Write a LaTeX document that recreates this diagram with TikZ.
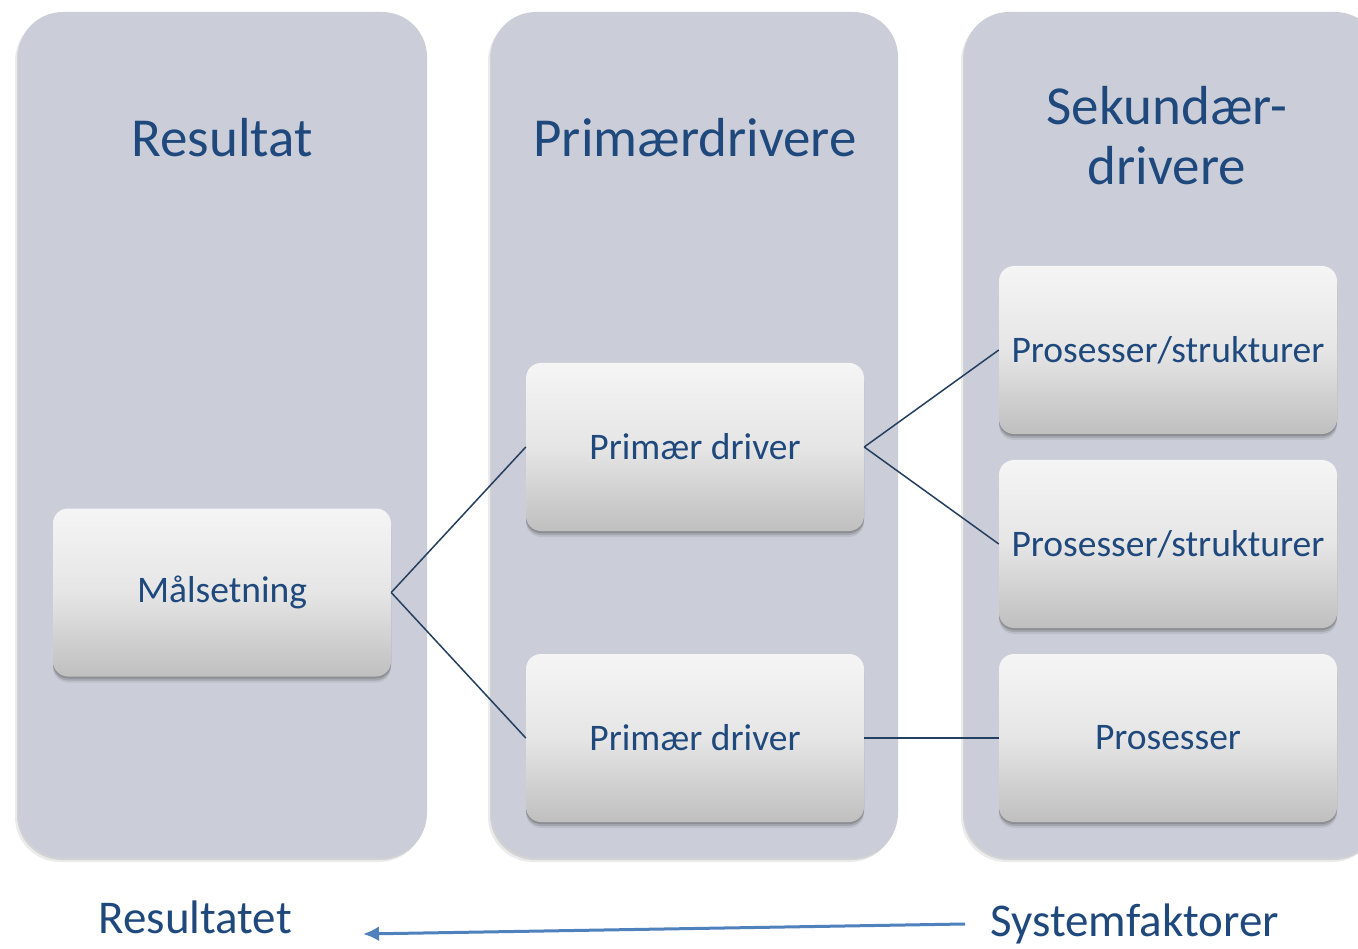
\documentclass[tikz,border=0pt]{standalone}
\usepackage{fontspec}
\setmainfont{Carlito}
\usetikzlibrary{shadows,arrows.meta}
\definecolor{panelgray}{HTML}{CBCED8}
\definecolor{txtblue}{HTML}{1F497D}
\definecolor{linenavy}{HTML}{243F60}
\definecolor{arrowblue}{HTML}{4F81BD}
\tikzset{
  panel/.style={fill=panelgray, rounded corners=45pt, draw=none,
    drop shadow={shadow xshift=-1pt, shadow yshift=-2pt, opacity=0.10, fill=black},
    drop shadow={shadow xshift=-3pt, shadow yshift=-4pt, opacity=0.08, fill=black}},
  itembox/.style={rounded corners=15pt, draw=none, top color=white!96!black, bottom color=black!25,
    middle color=black!10,
    drop shadow={shadow xshift=0pt, shadow yshift=-2pt, opacity=0.15, fill=black},
    drop shadow={shadow xshift=0pt, shadow yshift=-4pt, opacity=0.12, fill=black},
    drop shadow={shadow xshift=0pt, shadow yshift=-6pt, opacity=0.07, fill=black},
    minimum width=338pt, minimum height=168pt, inner sep=0pt,
    font=\fontsize{37.5}{44}\selectfont, text=txtblue},
  title/.style={font=\fontsize{55}{62}\selectfont, text=txtblue, align=center},
  bottomlabel/.style={font=\fontsize{47}{52}\selectfont, text=txtblue, anchor=base west},
  conn/.style={draw=linenavy, line width=1.5pt},
}
\begin{document}
\begin{tikzpicture}[x=1pt,y=-1pt]
\useasboundingbox (0,0) rectangle (1358,949);
\fill[white] (0,0) rectangle (1358,949);
\begin{scope}
\clip (0,0) rectangle (1358,949);
\path[panel] (18,12) rectangle (427,858);
\path[panel] (491,12) rectangle (898,858);
\path[panel] (964,12) rectangle (1380,858);
\end{scope}
\node[title, anchor=base] (t1) at (222,157) {Resultat};
\node[title, anchor=base] (t2) at (695,157) {Primærdrivere};
\node[title, anchor=base] (t3a) at (1167,125) {Sekundær-};
\node[title, anchor=base] (t3b) at (1167,185) {drivere};
\node[itembox] (m) at (222,592.5) {Målsetning};
\node[itembox] (p1) at (695,447) {Primær driver};
\node[itembox] (p2) at (695,738) {Primær driver};
\node[itembox] (s1) at (1168,350) {Prosesser/strukturer};
\node[itembox] (s2) at (1168,544) {Prosesser/strukturer};
\node[itembox] (s3) at (1168,738) {Prosesser};
\draw[conn] (m.east) -- (p1.west);
\draw[conn] (m.east) -- (p2.west);
\draw[conn] (p1.east) -- (s1.west);
\draw[conn] (p1.east) -- (s2.west);
\draw[conn] (p2.east) -- (s3.west);
\node[bottomlabel] (r) at (95,933) {Resultatet};
\node[bottomlabel] (s) at (987,936) {Systemfaktorer};
\coordinate (aS) at (965,924);
\coordinate (aE) at (363,934);
\draw[arrowblue, line width=3pt, -{Latex[length=16pt,width=15pt]}] (aS) -- (aE);
\end{tikzpicture}
\end{document}
